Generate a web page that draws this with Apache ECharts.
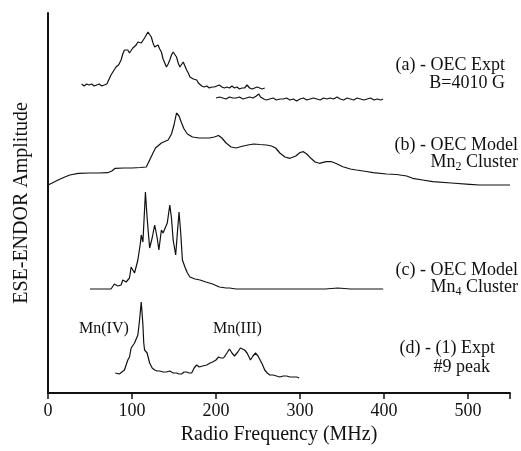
<!DOCTYPE html>
<html>
<head>
<meta charset="utf-8">
<script src="https://cdn.jsdelivr.net/npm/echarts@6/dist/echarts.min.js"></script>
<style>html,body{margin:0;padding:0;background:#fff}#c{width:521px;height:451px}</style>
</head>
<body>
<div id="c"></div>
<script>
// x-axis ticks
const xTicks = [0, 100, 200, 300, 400, 500];

// (a) OEC Expt, first sweep
const aFreq1 = [40,43,46,49,52,55,58,61,64,67,70,72,75,78,81,84,87,89,91,93,95,97,99,101,103,105,107,109,111,113,115,117,119,121,123,125,127,129,131,133,135,137,139,141,143,145,147,149,151,153,155,157,159,161,163,165,167,169,171,173,175,177,179,181,183,186,189,192,195,198,201,204,207,210,213,216,219,222,225,228,231,234,237,240,243,246,249,252,255,258];
const aAmp1  = [309,307,309,308,309,307,308,309,307,308,309,311,318,322,326,328,333,339,343,345,343,340,342,345,344,348,351,350,350,352,355,358,361,359,356,350,346,348,348,344,341,334,330,326,329,333,338,341,339,336,330,326,328,331,327,323,320,316,314,314,316,313,310,308,307,306,307,305,306,306,307,308,306,305,306,305,307,305,306,304,305,305,308,305,304,305,306,305,304,305];
// (a) OEC Expt, second sweep
const aFreq2 = [200,204,208,212,216,220,224,228,232,236,240,244,248,251,253,255,257,260,264,268,272,276,280,284,288,292,296,300,304,308,312,316,320,324,328,332,336,340,344,348,352,356,360,364,368,372,376,380,384,388,392,396,399];
const aAmp2  = [295,296,295,294,296,295,295,296,294,295,296,295,297,299,296,298,294,293,294,295,293,294,294,295,293,294,292,294,295,293,294,295,294,293,295,294,295,294,296,294,293,295,294,293,295,294,293,294,295,293,294,293,294];
// (b) OEC Model Mn2 cluster
const bFreq = [0,5,12,20,26,36,50,60,71,76,80,90,100,110,117,121,125,128,135,143,147,150,153,156,159,162,166,172,180,192,198,203,207,212,218,224,230,238,245,252,260,266,271,276,282,288,295,300,304,308,313,318,323,331,337,343,351,360,367,379,387,403,415,427,434,446,458,480,502,514,550];
const bAmp  = [208,210,213,216,218,219.7,220,220,220.3,222,224.7,225,225,225.5,226,233,240,245,250,253,259,268,280,277,270,264,259,256,255,255,256,257.5,255,250,246,245,246.5,248,249,248.5,248,247,245,240,236,234.7,237,240.5,241.3,239,234.7,231,229.7,231.3,231.5,229.5,226.3,224,223,221.5,220.3,219,218.5,217,214.7,213,211.3,210,208.7,208,208];
// (c) OEC Model Mn4 cluster
const cFreq = [50,60,75,79,83,87,89,93,97,99,103,107,110,111,113,116,118,121,124,127,130,132,135,137,139,142,145,147,149,152,154,156,158,160,163,166,169,175,181,188,196,204,212,216,224,260,300,330,345,360,399];
const cAmp  = [104,104,104,109,107,108,113,111,115,126,120,133,150,158,151,201,175,145,155,168,155,143,163,160,160,170,188,175,153,138,160,181,160,133,126,120,116,114,113,111,109,106,105,105,104,104,104,104,105,104,104];
// (d) (1) Expt #9 peak
const dFreq = [80,85,88,91,93,95,97,99,101,103,105,107,109,110,111,112,113,114,115,118,121,124,127,130,133,137,141,145,149,153,156,159,162,165,168,171,174,177,180,184,189,193,196,200,203,206,209,213,216,219,222,226,229,231,234,237,241,244,247,250,252,255,258,261,264,268,272,276,280,284,288,292,296,299];
const dAmp  = [20,19,21,23,28,33,36,45,47,50,54,58,73,82,91,80,68,50,43,40,30,25,23,22,22,21,21,22,20,20,19,19,21,21,20,20,25,28,26,27,28,30,31,33,36,35,35,40,44,40,37,41,45,46,43,40,33,37,40,37,35,29,23,20,18,18,17,16,17,17,16,16,16,15];

function pairs(xs, ys){ return xs.map((x,i)=>[x, ys[i]]); }

const serif = "'Liberation Serif','Times New Roman',serif";
const ink = '#111';
function lineSeries(xs, ys){
  return {type:'line', data:pairs(xs,ys), showSymbol:false, symbol:'none',
          lineStyle:{color:ink, width:1.2}, silent:true, animation:false};
}
function label(text, right, y, size){
  return {type:'text', right: right, top: y - (size||18)/2 - 1,
    style:{text:text, font:(size||18)+'px '+serif, fill:ink, textAlign:'right'}};
}
function richLabel(base, sub, rest, right, y){
  return {type:'text', right: right, top: y - 11,
    style:{text:'{n|'+base+'}{s|'+sub+'}{n|'+rest+'}', fill:ink,
      rich:{n:{font:'18px '+serif, fill:ink, lineHeight:22},
            s:{font:'12px '+serif, fill:ink, lineHeight:22, verticalAlign:'bottom'}}}};
}

const chart = echarts.init(document.getElementById('c'), null, {renderer:'canvas'});
chart.setOption({
  animation:false,
  backgroundColor:'#fff',
  grid:{left:48, right:11, top:13, bottom:58},
  xAxis:{type:'value', min:0, max:550, interval:100,
    name:'Radio Frequency (MHz)', nameLocation:'middle', nameGap:32,
    nameTextStyle:{fontFamily:serif, fontSize:20, color:ink},
    axisLine:{show:true, onZero:false, lineStyle:{color:ink, width:2}},
    axisTick:{show:true, inside:false, length:6, lineStyle:{color:ink, width:1.5}},
    axisLabel:{fontFamily:serif, fontSize:18, color:ink, margin:9,
      formatter:v=> xTicks.indexOf(v)>=0 ? String(v) : ''},
    splitLine:{show:false}},
  yAxis:{type:'value', min:0, max:380,
    name:'ESE-ENDOR Amplitude', nameLocation:'middle', nameGap:16,
    nameTextStyle:{fontFamily:serif, fontSize:20, color:ink},
    axisLine:{show:true, lineStyle:{color:ink, width:2}},
    axisTick:{show:false}, axisLabel:{show:false}, splitLine:{show:false}},
  series:[
    lineSeries(aFreq1, aAmp1),
    lineSeries(aFreq2, aAmp2),
    lineSeries(bFreq, bAmp),
    lineSeries(cFreq, cAmp),
    lineSeries(dFreq, dAmp)
  ],
  graphic:[
    label('(a) - OEC Expt', 16, 66),
    label('B=4010 G', 16, 84),
    label('(b) - OEC Model', 3, 146),
    richLabel('Mn','2',' Cluster', 3, 164),
    label('(c) - OEC Model', 3, 271),
    richLabel('Mn','4',' Cluster', 3, 289),
    label('(d) - (1) Expt', 26, 349),
    label('#9 peak', 31, 368),
    {type:'text', left:79, top:321, style:{text:'Mn(IV)', font:'16px '+serif, fill:ink}},
    {type:'text', left:213, top:321, style:{text:'Mn(III)', font:'16px '+serif, fill:ink}}
  ]
});
</script>
</body>
</html>
